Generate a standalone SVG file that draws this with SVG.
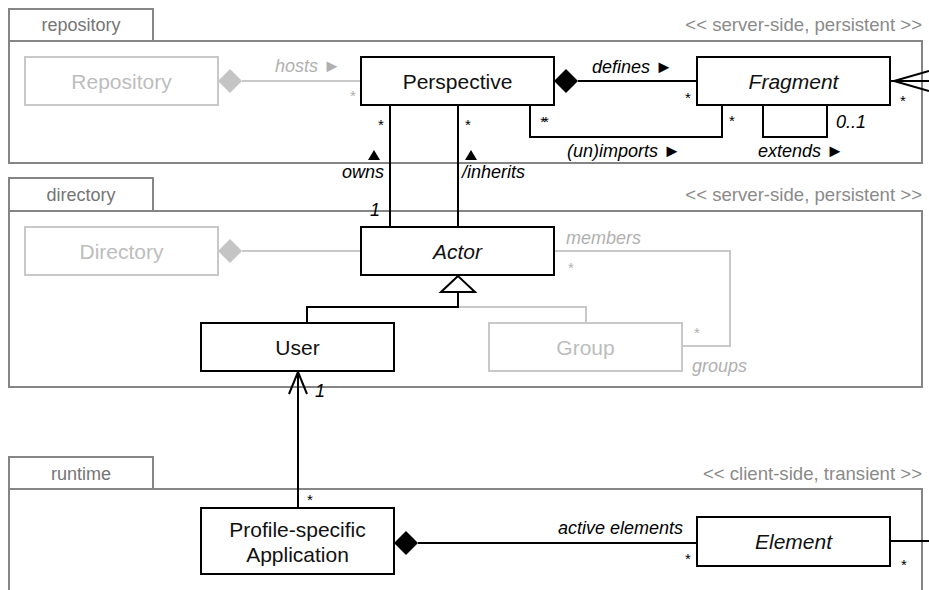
<svg xmlns="http://www.w3.org/2000/svg" width="929" height="590" viewBox="0 0 929 590">
<style>
.pkg{fill:none;stroke:#858585;stroke-width:2}
.tab{font-family:"Liberation Sans",Arial,sans-serif;font-size:18px;fill:#757575;text-anchor:middle}
.st{font-family:"Liberation Sans",Arial,sans-serif;font-size:18.6px;fill:#8a8a8a;text-anchor:end}
.nb{fill:#fff;stroke:#000;stroke-width:2}
.ng{fill:#fff;stroke:#c8c8c8;stroke-width:2}
.tb{font-family:"Liberation Sans",Arial,sans-serif;font-size:21px;fill:#111;text-anchor:middle}
.tg{font-family:"Liberation Sans",Arial,sans-serif;font-size:21px;fill:#bdbdbd;text-anchor:middle}
.it{font-style:italic}
.cb{fill:none;stroke:#000;stroke-width:2}
.cg{fill:none;stroke:#c8c8c8;stroke-width:2}
.lb{font-family:"Liberation Sans",Arial,sans-serif;font-size:18px;font-style:italic;fill:#000}
.lg{font-family:"Liberation Sans",Arial,sans-serif;font-size:18px;font-style:italic;fill:#b0b0b0}
.m{font-family:"Liberation Sans",Arial,sans-serif;font-size:15px;fill:#000;text-anchor:middle}
.mg{font-family:"Liberation Sans",Arial,sans-serif;font-size:15px;fill:#b0b0b0;text-anchor:middle}
.dir{fill:#000}
</style>

<g id="pkg-repository">
<rect class="pkg" x="9" y="9" width="144" height="32"/>
<rect class="pkg" x="9" y="41" width="913" height="122"/>
<text class="tab" x="81" y="31">repository</text>
<text class="st" x="922" y="31">&lt;&lt; server-side, persistent &gt;&gt;</text>
</g>
<g id="pkg-directory">
<rect class="pkg" x="9" y="178" width="144" height="33"/>
<rect class="pkg" x="9" y="211" width="913" height="176"/>
<text class="tab" x="81" y="201">directory</text>
<text class="st" x="922" y="201">&lt;&lt; server-side, persistent &gt;&gt;</text>
</g>
<g id="pkg-runtime">
<rect class="pkg" x="9" y="457" width="144" height="32"/>
<rect class="pkg" x="9" y="489" width="913" height="120"/>
<text class="tab" x="81" y="480">runtime</text>
<text class="st" x="922" y="480">&lt;&lt; client-side, transient &gt;&gt;</text>
</g>

<g id="connectors">
<!-- hosts -->
<line class="cg" x1="242" y1="81" x2="361" y2="81"/>
<polygon points="218,81 230,69 242,81 230,93" fill="#c4c4c4"/>
<text class="lg" x="275" y="72">hosts ►</text>
<text class="mg" x="353" y="101">*</text>
<!-- defines -->
<line class="cb" x1="578" y1="81" x2="697" y2="81"/>
<polygon points="554,81 566,69 578,81 566,93" fill="#000"/>
<text class="lb" x="592" y="73">defines ►</text>
<text class="m" x="688" y="103">*</text>
<!-- fragment right -->
<line class="cb" x1="891" y1="81" x2="929" y2="81"/>
<polyline class="cb" points="929,71 894,81 929,91"/>
<text class="m" x="903" y="106">*</text>
<!-- (un)imports -->
<polyline class="cb" points="530,105 530,137 722,137 722,105"/>
<text class="m" x="543" y="127" letter-spacing="-3">**</text>
<text class="m" x="732" y="126">*</text>
<text class="lb" x="567" y="157">(un)imports ►</text>
<!-- extends -->
<polyline class="cb" points="763,105 763,137 827,137 827,105"/>
<text class="lb" x="836" y="128">0..1</text>
<text class="lb" x="758" y="157">extends ►</text>
<!-- owns -->
<line class="cb" x1="390" y1="105" x2="390" y2="227"/>
<text class="m" x="381" y="130">*</text>
<polygon class="dir" points="368,160 380,160 374,150"/>
<text class="lb" x="384" y="178" text-anchor="end">owns</text>
<text class="lb" x="380" y="216" text-anchor="end">1</text>
<!-- inherits -->
<line class="cb" x1="458" y1="105" x2="458" y2="227"/>
<text class="m" x="468" y="130">*</text>
<polygon class="dir" points="465,160 477,160 471,150"/>
<text class="lb" x="462" y="178">/inherits</text>
<!-- directory aggregation -->
<line class="cg" x1="242" y1="251" x2="361" y2="251"/>
<polygon points="218,251 230,239 242,251 230,263" fill="#c4c4c4"/>
<!-- members / groups -->
<polyline class="cg" points="554,251 730,251 730,346 682,346"/>
<text class="lg" x="566" y="244">members</text>
<text class="mg" x="571" y="273">*</text>
<text class="mg" x="697" y="338">*</text>
<text class="lg" x="692" y="372">groups</text>
<!-- generalization -->
<polyline class="cg" points="458,307 586,307 586,323"/>
<polyline class="cb" points="458,292 458,307 307,307 307,323"/>
<polygon points="458,276 441,292 475,292" fill="#fff" stroke="#000" stroke-width="2"/>
<!-- app to user -->
<line class="cb" x1="298" y1="371" x2="298" y2="508"/>
<polyline class="cb" points="289,394 298,372 307,394"/>
<text class="lb" x="315" y="397">1</text>
<text class="m" x="310" y="505">*</text>
<!-- active elements -->
<line class="cb" x1="418" y1="543" x2="697" y2="543"/>
<polygon points="394,543 406,531 418,543 406,555" fill="#000"/>
<text class="lb" x="683" y="534" text-anchor="end">active elements</text>
<text class="m" x="688" y="564">*</text>
<line class="cb" x1="890" y1="541" x2="929" y2="541"/>
<text class="m" x="904" y="570">*</text>
</g>

<g id="node-repository"><rect class="ng" x="25" y="57" width="193" height="48"/><text class="tg" x="121.5" y="89">Repository</text></g>
<g id="node-perspective"><rect class="nb" x="361" y="57" width="193" height="48"/><text class="tb" x="457.5" y="89">Perspective</text></g>
<g id="node-fragment"><rect class="nb" x="697" y="57" width="193" height="48"/><text class="tb it" x="793.5" y="89">Fragment</text></g>
<g id="node-directory"><rect class="ng" x="25" y="227" width="193" height="48"/><text class="tg" x="121.5" y="259">Directory</text></g>
<g id="node-actor"><rect class="nb" x="361" y="227" width="193" height="48"/><text class="tb it" x="457.5" y="259">Actor</text></g>
<g id="node-user"><rect class="nb" x="201" y="323" width="193" height="48"/><text class="tb" x="297.5" y="355">User</text></g>
<g id="node-group"><rect class="ng" x="489" y="323" width="193" height="48"/><text class="tg" x="585.5" y="355">Group</text></g>
<g id="node-application"><rect class="nb" x="201" y="508" width="193" height="66"/><text class="tb" x="297.5" y="537">Profile-specific</text><text class="tb" x="297.5" y="562">Application</text></g>
<g id="node-element"><rect class="nb" x="697" y="517" width="193" height="49"/><text class="tb it" x="793.5" y="549">Element</text></g>
</svg>
